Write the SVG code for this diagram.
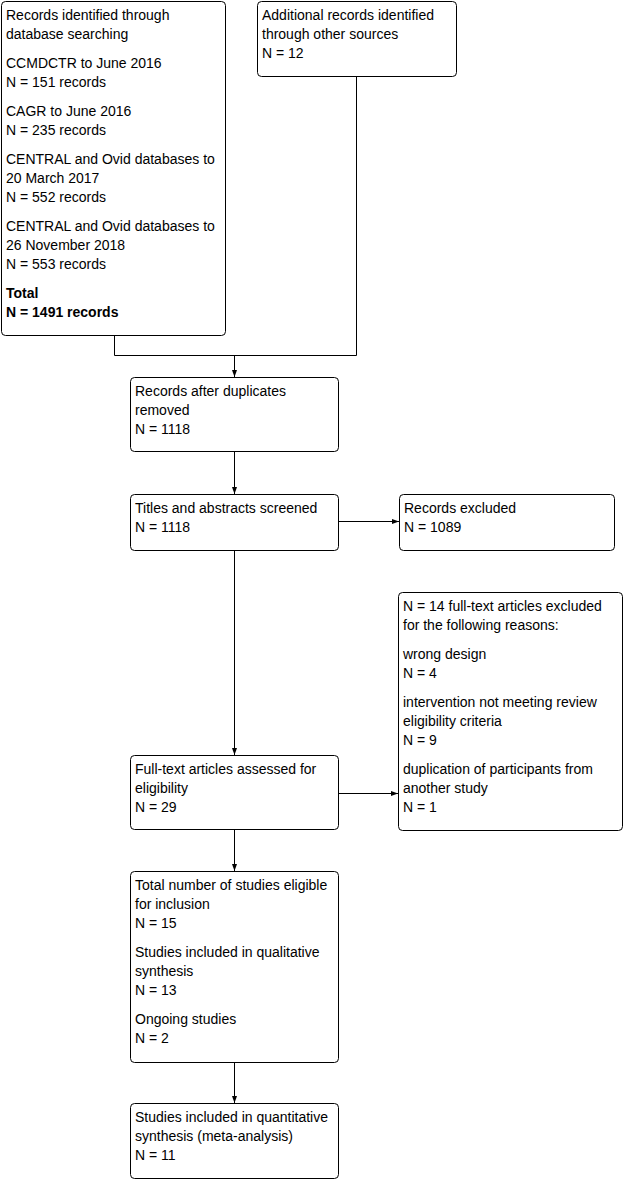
<svg xmlns="http://www.w3.org/2000/svg" width="624" height="1180" viewBox="0 0 624 1180">
<style>
.box{fill:#fff;stroke:#000;stroke-width:1}
text{font-family:"Liberation Sans",Arial,sans-serif;font-size:14px;fill:#000}
.b{font-weight:bold}
.c{fill:none;stroke:#000;stroke-width:1}
</style>
<defs>
<marker id="ah" markerWidth="8" markerHeight="6" refX="7" refY="3" orient="auto" markerUnits="userSpaceOnUse">
<path d="M0,0.5 L7,3 L0,5.5 Z" fill="#000"/>
</marker>
</defs>
<rect width="624" height="1180" fill="#fff"/>
<g id="connectors">
<polyline class="c" points="114.5,335 114.5,355.5 356.5,355.5 356.5,76"/>
<line class="c" x1="234.5" y1="355.5" x2="234.5" y2="377" marker-end="url(#ah)"/>
<line class="c" x1="234.5" y1="451" x2="234.5" y2="494" marker-end="url(#ah)"/>
<line class="c" x1="338" y1="521.5" x2="399" y2="521.5" marker-end="url(#ah)"/>
<line class="c" x1="234.5" y1="550" x2="234.5" y2="755" marker-end="url(#ah)"/>
<line class="c" x1="338" y1="793.5" x2="398" y2="793.5" marker-end="url(#ah)"/>
<line class="c" x1="234.5" y1="829" x2="234.5" y2="871" marker-end="url(#ah)"/>
<line class="c" x1="234.5" y1="1062" x2="234.5" y2="1103" marker-end="url(#ah)"/>
</g>
<g id="n1">
<rect class="box" x="1.5" y="1.5" width="224" height="334" rx="4"/>
<text x="6" y="20">Records identified through</text>
<text x="6" y="39">database searching</text>
<text x="6" y="68">CCMDCTR to June 2016</text>
<text x="6" y="87">N = 151 records</text>
<text x="6" y="116">CAGR to June 2016</text>
<text x="6" y="135">N = 235 records</text>
<text x="6" y="164">CENTRAL and Ovid databases to</text>
<text x="6" y="183">20 March 2017</text>
<text x="6" y="202">N = 552 records</text>
<text x="6" y="231">CENTRAL and Ovid databases to</text>
<text x="6" y="250">26 November 2018</text>
<text x="6" y="269">N = 553 records</text>
<text x="6" y="298" class="b">Total</text>
<text x="6" y="317" class="b">N = 1491 records</text>
</g>
<g id="n2">
<rect class="box" x="257.5" y="1.5" width="199" height="75" rx="4"/>
<text x="262" y="20">Additional records identified</text>
<text x="262" y="39">through other sources</text>
<text x="262" y="58">N = 12</text>
</g>
<g id="n3">
<rect class="box" x="130.5" y="377.5" width="208" height="74" rx="4"/>
<text x="135" y="396">Records after duplicates</text>
<text x="135" y="415">removed</text>
<text x="135" y="434">N = 1118</text>
</g>
<g id="n4">
<rect class="box" x="130.5" y="494.5" width="208" height="56" rx="4"/>
<text x="135" y="513">Titles and abstracts screened</text>
<text x="135" y="532">N = 1118</text>
</g>
<g id="n5">
<rect class="box" x="399.5" y="494.5" width="215" height="56" rx="4"/>
<text x="404" y="513">Records excluded</text>
<text x="404" y="532">N = 1089</text>
</g>
<g id="n6">
<rect class="box" x="398.5" y="592.5" width="224" height="238" rx="4"/>
<text x="403" y="611">N = 14 full-text articles excluded</text>
<text x="403" y="630">for the following reasons:</text>
<text x="403" y="659">wrong design</text>
<text x="403" y="678">N = 4</text>
<text x="403" y="707">intervention not meeting review</text>
<text x="403" y="726">eligibility criteria</text>
<text x="403" y="745">N = 9</text>
<text x="403" y="774">duplication of participants from</text>
<text x="403" y="793">another study</text>
<text x="403" y="812">N = 1</text>
</g>
<g id="n7">
<rect class="box" x="130.5" y="755.5" width="208" height="74" rx="4"/>
<text x="135" y="774">Full-text articles assessed for</text>
<text x="135" y="793">eligibility</text>
<text x="135" y="812">N = 29</text>
</g>
<g id="n8">
<rect class="box" x="130.5" y="871.5" width="208" height="191" rx="4"/>
<text x="135" y="890">Total number of studies eligible</text>
<text x="135" y="909">for inclusion</text>
<text x="135" y="928">N = 15</text>
<text x="135" y="957">Studies included in qualitative</text>
<text x="135" y="976">synthesis</text>
<text x="135" y="995">N = 13</text>
<text x="135" y="1024">Ongoing studies</text>
<text x="135" y="1043">N = 2</text>
</g>
<g id="n9">
<rect class="box" x="130.5" y="1103.5" width="208" height="75" rx="4"/>
<text x="135" y="1122">Studies included in quantitative</text>
<text x="135" y="1141">synthesis (meta-analysis)</text>
<text x="135" y="1160">N = 11</text>
</g>
</svg>
